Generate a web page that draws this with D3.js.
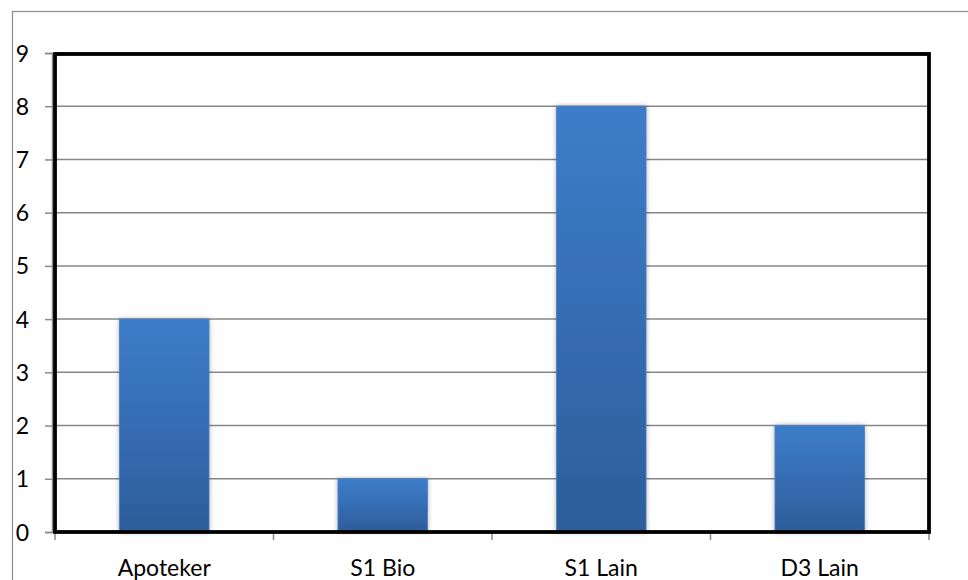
<!DOCTYPE html>
<html><head><meta charset="utf-8">
<script src="https://cdn.jsdelivr.net/npm/d3@7/dist/d3.min.js"></script>
<style>html,body{margin:0;padding:0;background:#fff;overflow:hidden}</style>
</head><body><svg id="c" width="968" height="580"></svg>
<script>
const categories = ["Apoteker", "S1 Bio", "S1 Lain", "D3 Lain"];
const values = [4, 1, 8, 2];
const yTicks = [0, 1, 2, 3, 4, 5, 6, 7, 8, 9];

const svg = d3.select("#c");
const W = 968, H = 580;
const m = {left: 55, right: 39, top: 53, bottom: 48};
const x = d3.scaleBand().domain(categories).range([m.left, W - m.right]).paddingInner(0.59).paddingOuter(0.295);
const xEdge = d3.scaleLinear().domain([0, categories.length]).range([m.left, W - m.right]);
const y = d3.scaleLinear().domain([0, 9]).range([H - m.bottom, m.top]);
const font = "Lato, 'Open Sans', sans-serif";

// outer chart border
svg.append("rect").attr("x", 12.5).attr("y", 11.5).attr("width", 1000).attr("height", 600)
  .attr("fill", "none").attr("stroke", "#8c8c8c").attr("stroke-width", 1.2);

const defs = svg.append("defs");
const g = defs.append("linearGradient").attr("id", "bg").attr("x1", 0).attr("y1", 0).attr("x2", 0).attr("y2", 1);
g.append("stop").attr("offset", "0%").attr("stop-color", "#3d7dca");
g.append("stop").attr("offset", "100%").attr("stop-color", "#2d5d9a");
const f = defs.append("filter").attr("id", "sh").attr("x", "-20%").attr("y", "-5%").attr("width", "140%").attr("height", "110%");
f.append("feDropShadow").attr("dx", 0).attr("dy", 0).attr("stdDeviation", 2.5).attr("flood-color", "#000").attr("flood-opacity", 0.3);

// gridlines
svg.append("g").selectAll("line").data(yTicks.filter(d => d > 0)).join("line")
  .attr("x1", m.left).attr("x2", W - m.right).attr("y1", d => y(d)).attr("y2", d => y(d))
  .attr("stroke", "#878787").attr("stroke-width", 1.5);

// y axis
const ya = svg.append("g").attr("transform", `translate(${m.left - 3},0)`)
  .call(d3.axisLeft(y).tickValues(yTicks).tickSize(7).tickPadding(0).tickFormat(d3.format("d")));
ya.select(".domain").attr("stroke", "#8a8a8a").attr("stroke-width", 1.5);
ya.selectAll(".tick line").attr("stroke", "#8a8a8a").attr("stroke-width", 1.5);
ya.selectAll(".tick text").attr("x", -23).attr("text-anchor", "end").attr("dy", "0.35em")
  .attr("font-family", font).attr("font-size", 23).attr("fill", "#000");

// x ticks
svg.append("g").selectAll("line").data(d3.range(categories.length + 1)).join("line")
  .attr("x1", d => xEdge(d)).attr("x2", d => xEdge(d)).attr("y1", y(0)).attr("y2", y(0) + 8)
  .attr("stroke", "#8a8a8a").attr("stroke-width", 1.5);

// bars
svg.append("g").selectAll("rect").data(values).join("rect")
  .attr("x", (d, i) => x(categories[i])).attr("width", x.bandwidth())
  .attr("y", d => y(d)).attr("height", d => y(0) - y(d))
  .attr("fill", "url(#bg)").attr("stroke", "#4b80c2").attr("stroke-width", 0.8)
  .attr("filter", "url(#sh)");

// x labels
svg.append("g").selectAll("text").data(categories).join("text")
  .attr("x", d => x(d) + x.bandwidth() / 2).attr("y", 576).attr("text-anchor", "middle")
  .attr("font-family", font).attr("font-size", 23).attr("fill", "#000").text(d => d);

// plot border
svg.append("rect").attr("x", m.left).attr("y", y(9) + 1).attr("width", W - m.right - m.left).attr("height", y(0) - y(9) - 1)
  .attr("fill", "none").attr("stroke", "#000").attr("stroke-width", 3.8);
</script></body></html>
